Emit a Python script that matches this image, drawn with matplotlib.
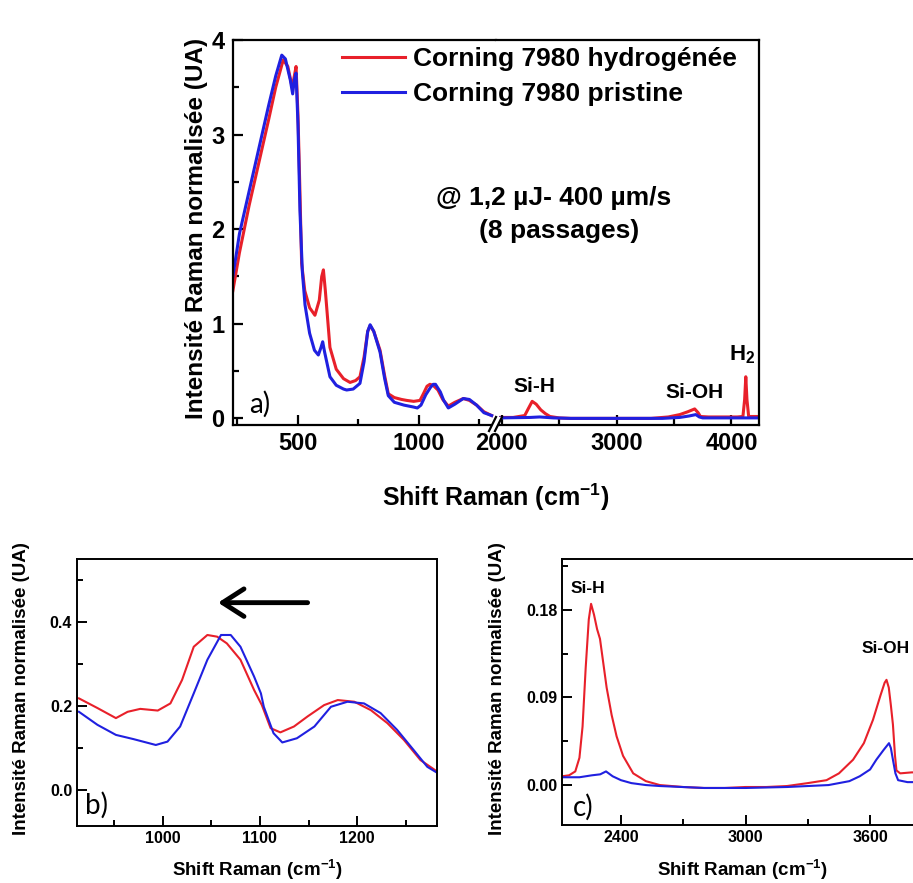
import numpy as np
import matplotlib
matplotlib.use('Agg')
from matplotlib import pyplot as plt
from matplotlib.lines import Line2D
from matplotlib.patches import Polygon
from matplotlib.ticker import MultipleLocator, FormatStrFormatter

plt.rcParams['font.family'] = ['Liberation Sans', 'DejaVu Sans']
plt.rcParams['font.weight'] = 'bold'
plt.rcParams['mathtext.fontset'] = 'custom'
plt.rcParams['mathtext.rm'] = 'Liberation Sans:bold'
plt.rcParams['mathtext.it'] = 'Liberation Sans:bold'
plt.rcParams['mathtext.bf'] = 'Liberation Sans:bold'
plt.rcParams['mathtext.default'] = 'rm'

# ---- panel a, low wavenumber part (left of the break)
a_lo_x_red = [233, 260, 300, 340, 380, 410, 441, 460, 478, 487, 494, 502, 510, 517, 530, 550,
              572, 590, 600, 607, 615, 634, 660, 690, 717, 740, 758, 775, 790, 800, 815, 841,
              860, 875, 900, 930, 951, 980, 1006, 1020, 1035, 1047, 1060, 1080, 1100, 1123,
              1150, 1185, 1210, 1240, 1270, 1302]
a_lo_y_red = [1.35, 1.75, 2.25, 2.70, 3.15, 3.50, 3.79, 3.72, 3.50, 3.62, 3.72, 3.20, 2.40, 1.64,
              1.35, 1.17, 1.09, 1.25, 1.50, 1.57, 1.35, 0.75, 0.52, 0.42, 0.38, 0.40, 0.44, 0.65,
              0.92, 0.98, 0.92, 0.72, 0.45, 0.26, 0.22, 0.20, 0.19, 0.18, 0.19, 0.26, 0.34, 0.36,
              0.35, 0.30, 0.20, 0.13, 0.17, 0.21, 0.19, 0.14, 0.07, 0.03]
a_lo_x_blue = [233, 260, 300, 340, 380, 410, 435, 450, 470, 480, 487, 494, 502, 510, 520, 531,
               550, 570, 586, 597, 604, 612, 634, 660, 690, 703, 730, 758, 775, 790, 800, 815,
               841, 860, 875, 900, 940, 979, 995, 1010, 1030, 1050, 1061, 1070, 1090, 1104,
               1123, 1150, 1185, 1210, 1240, 1270, 1302]
a_lo_y_blue = [1.50, 1.95, 2.40, 2.85, 3.30, 3.62, 3.84, 3.80, 3.58, 3.43, 3.58, 3.65, 3.10, 2.20,
               1.55, 1.20, 0.90, 0.72, 0.67, 0.75, 0.81, 0.70, 0.44, 0.35, 0.31, 0.30, 0.31, 0.37,
               0.60, 0.92, 0.99, 0.92, 0.70, 0.42, 0.24, 0.17, 0.14, 0.12, 0.11, 0.14, 0.25, 0.33,
               0.36, 0.36, 0.28, 0.19, 0.11, 0.15, 0.21, 0.20, 0.14, 0.06, 0.03]

# ---- panel a, high wavenumber part (right of the break)
a_hi_x_red = [1990, 2100, 2200, 2230, 2265, 2300, 2340, 2380, 2420, 2500, 2600, 3000, 3300, 3450,
              3550, 3620, 3680, 3710, 3730, 3800, 4050, 4100, 4115, 4125, 4135, 4150, 4250]
a_hi_y_red = [0.01, 0.01, 0.03, 0.10, 0.18, 0.15, 0.09, 0.05, 0.02, 0.005, 0.0, 0.0, 0.0, 0.015,
              0.04, 0.07, 0.10, 0.06, 0.02, 0.015, 0.015, 0.02, 0.20, 0.44, 0.20, 0.02, 0.02]
a_hi_x_blue = [1990, 2250, 2330, 2450, 2600, 3400, 3550, 3630, 3690, 3720, 3750, 4250]
a_hi_y_blue = [0.005, 0.01, 0.015, 0.005, 0.0, 0.0, 0.01, 0.025, 0.04, 0.015, 0.005, 0.005]

# ---- panel b (zoom on 900-1280 cm-1)
b_x_red = [914, 933, 952, 964, 977, 995, 1008, 1020, 1032, 1046, 1056, 1066, 1080, 1094, 1102,
           1111, 1121, 1135, 1149, 1166, 1180, 1197, 1214, 1231, 1248, 1265, 1282]
b_y_red = [0.218, 0.195, 0.171, 0.186, 0.193, 0.189, 0.206, 0.262, 0.341, 0.369, 0.365, 0.349,
           0.310, 0.238, 0.202, 0.147, 0.137, 0.151, 0.175, 0.202, 0.214, 0.210, 0.190, 0.159,
           0.119, 0.071, 0.044]
b_x_blue = [914, 933, 952, 970, 993, 1005, 1018, 1032, 1046, 1060, 1070, 1080, 1094, 1101, 1104,
            1114, 1123, 1138, 1156, 1173, 1190, 1207, 1224, 1241, 1258, 1272, 1282]
b_y_blue = [0.186, 0.155, 0.131, 0.121, 0.107, 0.115, 0.151, 0.230, 0.310, 0.369, 0.369, 0.341,
            0.270, 0.230, 0.198, 0.135, 0.113, 0.123, 0.151, 0.198, 0.210, 0.206, 0.183, 0.143,
            0.095, 0.055, 0.041]

# ---- panel c (zoom on 2100-3850 cm-1)
c_x_red = [2116, 2150, 2180, 2200, 2215, 2230, 2245, 2256, 2270, 2285, 2299, 2315, 2331, 2355,
           2379, 2410, 2459, 2520, 2587, 2700, 2800, 2900, 3000, 3100, 3200, 3300, 3390, 3450,
           3518, 3570, 3614, 3650, 3670, 3679, 3690, 3700, 3710, 3720, 3727, 3745, 3800, 3850]
c_y_red = [0.009, 0.010, 0.014, 0.028, 0.060, 0.120, 0.170, 0.186, 0.175, 0.160, 0.150, 0.125,
           0.100, 0.072, 0.050, 0.030, 0.012, 0.004, 0.000, -0.002, -0.003, -0.003, -0.002,
           -0.002, -0.001, 0.002, 0.005, 0.012, 0.026, 0.043, 0.067, 0.092, 0.105, 0.108, 0.100,
           0.082, 0.062, 0.030, 0.015, 0.012, 0.013, 0.013]
c_x_blue = [2116, 2200, 2260, 2300, 2328, 2360, 2400, 2450, 2520, 2587, 2800, 3000, 3200, 3400,
            3500, 3550, 3600, 3630, 3665, 3691, 3700, 3710, 3722, 3735, 3780, 3850]
c_y_blue = [0.008, 0.008, 0.010, 0.011, 0.014, 0.009, 0.005, 0.002, 0.000, -0.001, -0.003,
            -0.003, -0.002, 0.000, 0.004, 0.009, 0.016, 0.026, 0.036, 0.043, 0.038, 0.026, 0.012,
            0.005, 0.003, 0.003]

labels = ['Corning 7980 hydrogénée', 'Corning 7980 pristine']
RED = '#e8202a'
BLUE = '#2020e0'

W, H = 913, 883


def box(l, t, r, b):
    return [l / W, 1 - b / H, (r - l) / W, (b - t) / H]


def style(ax, fs, lw=1.6):
    ax.tick_params(which='both', direction='in', width=lw, labelsize=fs, top=False, right=False)
    ax.tick_params(which='major', length=7)
    ax.tick_params(which='minor', length=4)
    for s in ax.spines.values():
        s.set_linewidth(lw)


fig = plt.figure(figsize=(W / 100, H / 100), dpi=100)

# --- panel a : broken x axis made of two axes side by side
ax1 = fig.add_axes(box(233, 40, 496, 425))
ax2 = fig.add_axes(box(496, 40, 759, 425), sharey=ax1)
l_red, = ax1.plot(a_lo_x_red, a_lo_y_red, color=RED, lw=2.2)
l_blue, = ax1.plot(a_lo_x_blue, a_lo_y_blue, color=BLUE, lw=2.2)
ax2.plot(a_hi_x_red, a_hi_y_red, color=RED, lw=2.2)
ax2.plot(a_hi_x_blue, a_hi_y_blue, color=BLUE, lw=2.2)
ax1.set_xlim(233.5, 1320)
ax2.set_xlim(1950, 4240)
ax1.set_ylim(-0.07, 4.0)
for ax in (ax1, ax2):
    style(ax, 17)
    ax.tick_params(axis='x', pad=5)
    ax.tick_params(axis='y', pad=6)
ax1.xaxis.set_major_locator(MultipleLocator(500))
ax1.xaxis.set_minor_locator(MultipleLocator(250))
ax2.xaxis.set_major_locator(MultipleLocator(1000))
ax2.xaxis.set_minor_locator(MultipleLocator(500))
ax1.yaxis.set_major_locator(MultipleLocator(1))
ax1.yaxis.set_minor_locator(MultipleLocator(0.5))
ax1.spines['right'].set_visible(False)
ax2.spines['left'].set_visible(False)
ax2.tick_params(axis='y', which='both', left=False, labelleft=False)

ax2.text(2285, 0.34, 'Si-H', fontsize=15, ha='center', va='center')
ax2.text(3678, 0.27, 'Si-OH', fontsize=15, ha='center', va='center')
ax2.text(4096, 0.67, 'H$_2$', fontsize=16, ha='center', va='center')
ax1.text(0.10, 0.055, 'a)', transform=ax1.transAxes, fontsize=20, ha='center', va='center',
         family=['Lato', 'DejaVu Sans'], weight='normal')

fig.legend([l_red, l_blue], labels, loc='upper left', bbox_to_anchor=(342 / W, 1 - 47 / H),
           frameon=False, fontsize=19, handlelength=2.4, handletextpad=0.3, labelspacing=0.42,
           borderpad=0, borderaxespad=0)
fig.text(554 / W, 1 - 198 / H, '@ 1,2 µJ- 400 µm/s', fontsize=19, ha='center', va='center')
fig.text(559 / W, 1 - 231 / H, '(8 passages)', fontsize=19, ha='center', va='center')

# --- panel b
ax3 = fig.add_axes(box(77, 559, 437, 826))
ax3.plot(b_x_red, b_y_red, color=RED, lw=1.5)
ax3.plot(b_x_blue, b_y_blue, color=BLUE, lw=1.5)
ax3.set_xlim(912, 1282)
ax3.set_ylim(-0.086, 0.55)
style(ax3, 11.5, 1.4)
ax3.xaxis.set_major_locator(MultipleLocator(100))
ax3.xaxis.set_minor_locator(MultipleLocator(50))
ax3.yaxis.set_major_locator(MultipleLocator(0.2))
ax3.yaxis.set_minor_locator(MultipleLocator(0.1))
ax3.annotate('', xy=(1057, 0.446), xytext=(1149, 0.446),
             arrowprops=dict(arrowstyle='->,head_length=0.7,head_width=0.45', lw=3.5,
                             color='black', mutation_scale=22, shrinkA=0, shrinkB=0))
ax3.text(0.055, 0.079, 'b)', transform=ax3.transAxes, fontsize=20, ha='center', va='center',
         family=['Lato', 'DejaVu Sans'], weight='normal')

# --- panel c (its right side runs past the figure edge, as in the source)
ax4 = fig.add_axes(box(562, 559, 922, 825))
ax4.plot(c_x_red, c_y_red, color=RED, lw=1.5)
ax4.plot(c_x_blue, c_y_blue, color=BLUE, lw=1.5)
ax4.set_xlim(2116, 3850)
ax4.set_ylim(-0.041, 0.232)
style(ax4, 11.5, 1.4)
ax4.xaxis.set_major_locator(MultipleLocator(600))
ax4.xaxis.set_minor_locator(MultipleLocator(300))
ax4.yaxis.set_major_locator(MultipleLocator(0.09))
ax4.yaxis.set_minor_locator(MultipleLocator(0.045))
ax4.yaxis.set_major_formatter(FormatStrFormatter('%.2f'))
ax4.text(2241, 0.202, 'Si-H', fontsize=12.5, ha='center', va='center')
ax4.text(3560, 0.140, 'Si-OH', fontsize=12.5, ha='left', va='center')
ax4.text(0.058, 0.068, 'c)', transform=ax4.transAxes, fontsize=20, ha='center', va='center',
         family=['Lato', 'DejaVu Sans'], weight='normal')

# --- axis titles
fig.text(196 / W, 1 - 228 / H, 'Intensité Raman normalisée (UA)', rotation=90, fontsize=17.5,
         ha='center', va='center')
fig.text(496 / W, 1 - 497 / H, 'Shift Raman (cm$^{-1}$)', fontsize=18, ha='center', va='center')
for xc, yc in ((22, 689), (498, 689)):
    fig.text(xc / W, 1 - yc / H, 'Intensité Raman normalisée (UA)', rotation=90, fontsize=13.5,
             ha='center', va='center')
for xc in (257, 742):
    fig.text(xc / W, 1 - 870 / H, 'Shift Raman (cm$^{-1}$)', fontsize=13.5, ha='center', va='center')

# --- break mark on the bottom axis of panel a (pixel overlay)
ov = fig.add_axes([0, 0, 1, 1])
ov.set_xlim(0, W)
ov.set_ylim(H, 0)
ov.axis('off')
ov.patch.set_alpha(0)
ov.add_patch(Polygon([[489, 431], [496, 417], [502, 417], [495, 431]], closed=True,
                     facecolor='white', edgecolor='none'))
ov.add_line(Line2D([489, 496], [431, 417], color='black', lw=1.6))
ov.add_line(Line2D([495, 502], [431, 417], color='black', lw=1.6))

fig.savefig('out.png', dpi=100)
